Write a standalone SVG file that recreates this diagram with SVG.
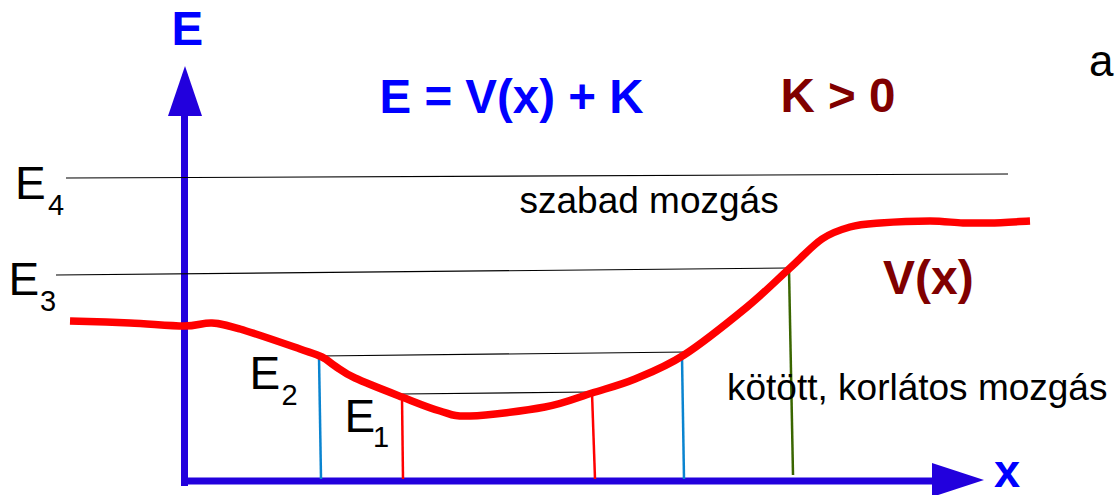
<svg xmlns="http://www.w3.org/2000/svg" width="1115" height="495" viewBox="0 0 1115 495">
<style>
text { font-family: "Liberation Sans", Arial, sans-serif; }
.bold { font-weight: bold; }
.blue { fill: #0000ff; }
.dred { fill: #800000; }
.reg { fill: #000000; }
.lvl { stroke: #000000; stroke-width: 1.1; fill: none; }
.vblue { stroke: #0a84d0; stroke-width: 2.5; }
.vred { stroke: #ff0000; stroke-width: 2.5; }
.vgreen { stroke: #3a6600; stroke-width: 2.5; }
.axis { stroke: #2200dd; stroke-width: 7; }
.head { fill: #2200dd; }
</style>
<rect width="1115" height="495" fill="#ffffff"/>

<g id="axes">
  <line class="axis" x1="184.5" y1="114" x2="184.5" y2="486"/>
  <polygon class="head" points="185,66 168,116 202,116"/>
  <line class="axis" x1="181" y1="481" x2="934" y2="481"/>
  <polygon class="head" points="932,463 984,480 932,497"/>
  <text id="lbl-E" class="bold blue" x="171.5" y="45" font-size="47.5">E</text>
  <text id="lbl-x" class="bold blue" x="994" y="487" font-size="47">x</text>
</g>

<g id="connectors">
  <line class="lvl" x1="66" y1="178" x2="1008" y2="174"/>
  <line class="lvl" x1="56" y1="275" x2="788" y2="268"/>
  <line class="lvl" x1="319" y1="356" x2="687" y2="352"/>
  <line class="lvl" x1="402" y1="394" x2="592" y2="392"/>
  <line class="vblue" x1="319" y1="356" x2="321" y2="479"/>
  <line class="vred" x1="402" y1="397" x2="403" y2="479"/>
  <line class="vred" x1="592" y1="393" x2="595" y2="479"/>
  <line class="vblue" x1="682" y1="357" x2="684" y2="479"/>
  <line class="vgreen" x1="789" y1="269" x2="793" y2="475"/>
</g>

<g id="curve">
  <path fill="none" stroke="#ff0000" stroke-width="7.5" stroke-linecap="butt" stroke-linejoin="round"
    d="M70,321 C80,321.3 111,322.2 130,323 C149,323.8 170.3,326 184,326 C197.7,326 202.7,322.5 212,323 C221.3,323.5 225.3,324.7 240,329 C254.7,333.3 286.3,344.3 300,349 C313.7,353.7 316.2,354.2 322,357 C327.8,359.8 329.5,362.5 335,366 C340.5,369.5 343.8,372.8 355,378 C366.2,383.2 387.8,391.5 402,397 C416.2,402.5 428.7,407.8 440,411 C451.3,414.2 452.5,416.7 470,416 C487.5,415.3 524.7,410.8 545,407 C565.3,403.2 577,397.7 592,393 C607,388.3 619.7,385.3 635,379 C650.3,372.7 665.3,367 684,355 C702.7,343 729.3,321.5 747,307 C764.7,292.5 777.5,279.3 790,268 C802.5,256.7 812,245.8 822,239 C832,232.2 840.3,229.7 850,227 C859.7,224.3 866.7,224 880,223 C893.3,222 916.2,221 930,221 C943.8,221 953,222.7 963,223 C973,223.3 978.8,223 990,223 C1001.2,222.7 1023.3,221.3 1030,221"/>
</g>

<g id="titles">
  <text id="eq" class="bold blue" x="379.5" y="113" font-size="47.5">E = V(x) + K</text>
  <text id="kpos" class="bold dred" x="780.5" y="112" font-size="47.5">K &gt; 0</text>
  <text id="a" class="reg" x="1089" y="76" font-size="44">a</text>
  <text id="vx" class="bold dred" x="883" y="294" font-size="48">V(x)</text>
</g>

<g id="level-labels" class="reg">
  <g id="E4"><text x="15" y="199" font-size="46">E</text><text x="48" y="215" font-size="29">4</text></g>
  <g id="E3"><text x="8.5" y="295" font-size="46">E</text><text x="40" y="311" font-size="29">3</text></g>
  <g id="E2"><text x="249.5" y="389" font-size="46">E</text><text x="281.5" y="405" font-size="29">2</text></g>
  <g id="E1"><text x="344.5" y="432" font-size="46">E</text><text x="373" y="447" font-size="29">1</text></g>
</g>

<g id="regions">
  <text id="free" class="reg" x="519.5" y="213" font-size="37">szabad mozgás</text>
  <text id="bound" class="reg" x="727" y="400" font-size="37">kötött, korlátos mozgás</text>
</g>
</svg>
